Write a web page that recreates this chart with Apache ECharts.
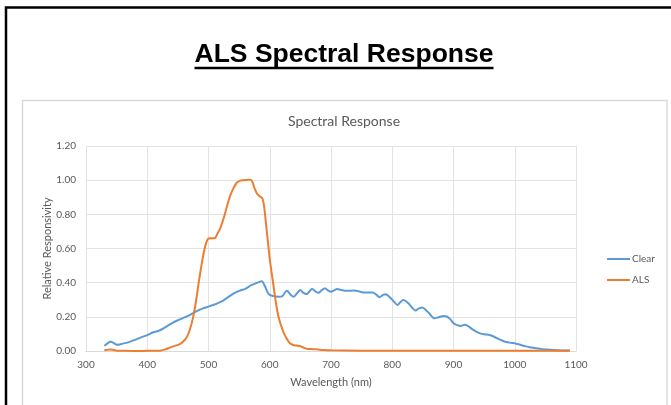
<!DOCTYPE html>
<html>
<head>
<meta charset="utf-8">
<script src="https://cdn.jsdelivr.net/npm/echarts@6/dist/echarts.min.js"></script>
<style>
html,body{margin:0;padding:0;background:#fff;}
#c{width:671px;height:405px;}
</style>
</head>
<body>
<div id="c"></div>
<script>
// Wavelength (nm) / relative responsivity readings
const clearNm = [330,335,340,345,350,355,360,370,380,390,400,410,420,430,440,450,460,470,480,490,500,510,520,530,540,550,560,570,580,587,592,598,605,615,620,628,634,639,645,650,655,660,665,669,674,679,685,690,695,700,705,710,718,725,738,745,752,760,768,774,779,785,789,795,800,809,813,818,823,828,833,838,843,849,854,860,869,876,884,889,895,900,907,912,918,924,931,942,950,959,967,975,983,992,1002,1010,1018,1027,1035,1045,1056,1070,1090];
const clearVal = [0.030,0.045,0.054,0.048,0.037,0.038,0.043,0.052,0.065,0.080,0.093,0.110,0.120,0.140,0.162,0.180,0.195,0.212,0.232,0.248,0.260,0.272,0.287,0.310,0.335,0.352,0.364,0.385,0.400,0.408,0.380,0.335,0.322,0.318,0.320,0.352,0.330,0.318,0.340,0.357,0.340,0.333,0.350,0.364,0.350,0.341,0.356,0.368,0.355,0.347,0.355,0.363,0.356,0.352,0.354,0.350,0.343,0.342,0.343,0.330,0.315,0.328,0.332,0.318,0.300,0.270,0.285,0.298,0.290,0.273,0.252,0.237,0.248,0.255,0.243,0.222,0.191,0.198,0.205,0.202,0.185,0.163,0.150,0.147,0.153,0.145,0.127,0.105,0.098,0.094,0.082,0.068,0.056,0.049,0.043,0.035,0.027,0.021,0.016,0.011,0.008,0.005,0.003];

const alsNm = [330,335,340,345,350,360,380,400,420,430,437,445,454,460,465,470,475,480,484,488,492,496,500,505,510,515,519,525,530,535,541,546,551,558,565,570,575,579,584,588,591,594,597,600,603,607,611,615,622,628,633,638,644,649,655,660,668,676,688,700,750,800,900,1000,1090];
const alsVal = [0.004,0.007,0.009,0.006,0.002,0.001,0.000,0.001,0.002,0.010,0.020,0.030,0.042,0.060,0.084,0.130,0.200,0.300,0.400,0.490,0.571,0.630,0.659,0.660,0.660,0.690,0.717,0.780,0.844,0.905,0.955,0.985,0.996,1.000,1.003,1.000,0.955,0.922,0.905,0.893,0.840,0.740,0.640,0.540,0.460,0.360,0.262,0.190,0.113,0.070,0.045,0.035,0.032,0.029,0.020,0.013,0.011,0.010,0.006,0.004,0.002,0.001,0.001,0.001,0.001];

const seriesNames = ['Clear','ALS'];
const seriesColors = ['#5B9BD5','#ED7D31'];

const pageTitle = 'ALS Spectral Response';
const chartTitle = 'Spectral Response';
const xName = 'Wavelength (nm)';
const yName = 'Relative Responsivity';

const chart = echarts.init(document.getElementById('c'), null, {renderer:'canvas'});

const titleFont = 'bold 26.5px "Liberation Sans", Arial, sans-serif';
const cv = document.createElement('canvas').getContext('2d');
cv.font = titleFont;
const tw = cv.measureText(pageTitle).width;
const tcx = 344;

const pair = (xs, ys) => xs.map((x, i) => [x, ys[i]]);
const labelColor = '#595959';
const font = 'Lato, "Open Sans", sans-serif';

chart.setOption({
  backgroundColor: '#ffffff',
  animation: false,
  graphic: [
    {type:'rect', shape:{x:6, y:7.5, width:700, height:420}, style:{fill:'none', stroke:'#000', lineWidth:2.5}, silent:true, z:0},
    {type:'rect', shape:{x:22.5, y:100.5, width:644.5, height:400}, style:{fill:'#fff', stroke:'#d9d9d9', lineWidth:1.5}, silent:true, z:0},
    {type:'text', x:tcx, y:55, style:{text:pageTitle, font:titleFont, fill:'#000', align:'center', verticalAlign:'middle'}, z:5},
    {type:'line', shape:{x1:tcx - tw/2, y1:68, x2:tcx + tw/2, y2:68}, style:{stroke:'#000', lineWidth:2.5}, z:5},
    {type:'text', x:344, y:121, style:{text:chartTitle, font:'14px ' + font, fill:labelColor, align:'center', verticalAlign:'middle'}, z:5}
  ],
  grid: {left:86, right:95, top:146, bottom:54, containLabel:false},
  legend: {
    orient:'vertical', left:607, top:253, padding:0, itemWidth:23, itemHeight:2, itemGap:9,
    icon:'rect',
    textStyle:{color:labelColor, fontSize:10, fontFamily:font, lineHeight:12, padding:[0,0,0,-3]},
    data: seriesNames
  },
  xAxis: {
    type:'value', min:300, max:1100, interval:100,
    name:xName, nameLocation:'middle', nameGap:26,
    nameTextStyle:{color:labelColor, fontSize:11, fontFamily:font},
    axisLine:{show:true, lineStyle:{color:'#d9d9d9', width:1}},
    axisTick:{show:false},
    axisLabel:{color:labelColor, fontSize:10, fontFamily:font, margin:9, formatter:v => String(v)},
    splitLine:{show:true, lineStyle:{color:'#e3e3e3', width:1}}
  },
  yAxis: {
    type:'value', min:0, max:1.2, interval:0.2,
    name:yName, nameLocation:'middle', nameGap:33, nameMoveOverlap:false,
    nameTextStyle:{color:labelColor, fontSize:11, fontFamily:font},
    axisLine:{show:false}, axisTick:{show:false},
    axisLabel:{color:labelColor, fontSize:10, fontFamily:font, margin:10, formatter:v => v.toFixed(2)},
    splitLine:{show:true, lineStyle:{color:'#e3e3e3', width:1}}
  },
  series: [
    {name:seriesNames[0], type:'line', data:pair(clearNm, clearVal), smooth:0.3, showSymbol:false, symbol:'none',
     lineStyle:{color:seriesColors[0], width:2}, itemStyle:{color:seriesColors[0]}, z:3},
    {name:seriesNames[1], type:'line', data:pair(alsNm, alsVal), smooth:0.3, showSymbol:false, symbol:'none',
     lineStyle:{color:seriesColors[1], width:2}, itemStyle:{color:seriesColors[1]}, z:4}
  ]
});
</script>
</body>
</html>
